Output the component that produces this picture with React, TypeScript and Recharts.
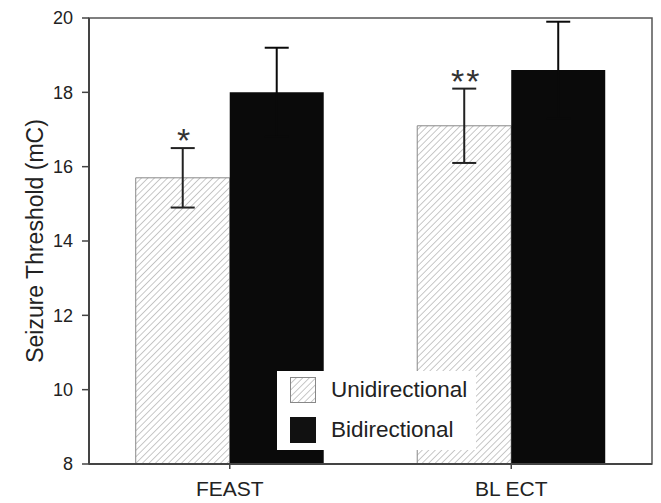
import React from 'react';
import { BarChart, Bar, XAxis, YAxis, ErrorBar, LabelList, Legend, ReferenceArea } from 'recharts';

// values
const groups = ['FEAST', 'BL ECT'];
const uniMean = [15.7, 17.1];
const uniErr = [0.8, 1.0];
const biMean = [18.0, 18.6];
const biErr = [1.2, 1.3];
const sigMarks = ['*', '**'];
const yTicks = [8, 10, 12, 14, 16, 18, 20];

const data = groups.map((g, i) => ({
  group: g,
  uni: uniMean[i],
  uniErr: uniErr[i],
  bi: biMean[i],
  biErr: biErr[i],
  sig: sigMarks[i],
}));

const FONT = '"Liberation Sans", Arial, Helvetica, sans-serif';
const INK = '#222';
const BLACK = '#0a0a0a';

const HatchPattern = ({ id }: { id: string }) => (
  <pattern id={id} patternUnits="userSpaceOnUse" width="4.6" height="4.6" patternTransform="rotate(45)">
    <rect width="4.6" height="4.6" fill="#fff" />
    <line x1="0" y1="0" x2="0" y2="4.6" stroke="#aaa" strokeWidth="1.3" />
  </pattern>
);

// asterisks above the error bar of the hatched bars
const SigLabel = (props: any) => {
  const vb = props.viewBox || {};
  const x = props.x ?? vb.x;
  const y = props.y ?? vb.y;
  const width = props.width ?? vb.width;
  const height = props.height ?? vb.height;
  const idx = props.index;
  const d = data[idx];
  if (!d || x == null) return null;
  const pxPerUnit = height / (d.uni - yTicks[0]);
  const errTop = y - d.uniErr * pxPerUnit;
  return (
    <text
      x={x + width / 2 + 2}
      y={errTop - 17}
      textAnchor="middle"
      fontFamily={FONT}
      fontSize={34}
      fill="#333"
      dy="0.62em"
      letterSpacing={2}
    >
      {d.sig}
    </text>
  );
};

const renderLegend = () => (
  <div style={{ background: '#fff', width: '100%', height: '100%', position: 'relative', fontFamily: FONT, fontSize: 22.5, color: INK }}>
    {[
      { label: 'Unidirectional', hatch: true },
      { label: 'Bidirectional', hatch: false },
    ].map((item, i) => (
      <div key={item.label} style={{ position: 'absolute', left: 13, top: 6 + i * 40, height: 26, display: 'flex', alignItems: 'center' }}>
        <svg width={26} height={26} style={{ display: 'block' }}>
          <defs>
            <HatchPattern id={`lg-hatch-${i}`} />
          </defs>
          <rect
            x={0.5}
            y={0.5}
            width={25}
            height={25}
            fill={item.hatch ? `url(#lg-hatch-${i})` : '#111'}
            stroke={item.hatch ? '#888' : '#111'}
            strokeWidth={1}
          />
        </svg>
        <span style={{ marginLeft: 15, lineHeight: '26px', whiteSpace: 'nowrap' }}>{item.label}</span>
      </div>
    ))}
  </div>
);

export default function App() {
  return (
    <div style={{ position: 'fixed', left: 0, top: 0, width: 661, height: 503, background: '#fff' }}>
      <BarChart
        width={661}
        height={503}
        data={data}
        margin={{ top: 18, right: 9, bottom: 0, left: 0 }}
        barCategoryGap="16.6%"
        barGap={0}
      >
        <defs>
          <HatchPattern id="hatch" />
        </defs>
        <XAxis
          dataKey="group"
          height={39}
          tickSize={5}
          tickMargin={12}
          axisLine={{ stroke: '#444', strokeWidth: 2 }}
          tickLine={{ stroke: '#444', strokeWidth: 1.5 }}
          tick={{ fill: INK, fontSize: 21, fontFamily: FONT }}
        />
        <YAxis
          width={89}
          domain={[8, 20]}
          ticks={yTicks}
          allowDataOverflow
          tickSize={7}
          tickMargin={9}
          axisLine={{ stroke: '#444', strokeWidth: 2 }}
          tickLine={{ stroke: '#444', strokeWidth: 1.5 }}
          tick={{ fill: INK, fontSize: 18, fontFamily: FONT }}
          label={{
            value: 'Seizure Threshold (mC)',
            angle: -90,
            position: 'center',
            dx: -10,
            style: { fill: INK, fontSize: 23, fontFamily: FONT, textAnchor: 'middle' },
          }}
        />
        <ReferenceArea y1={8} y2={20} fill="none" stroke="#555" strokeWidth={1.5} ifOverflow="visible" />
        <Bar dataKey="uni" name="Unidirectional" fill="url(#hatch)" stroke="#888" strokeWidth={1} isAnimationActive={false}>
          <ErrorBar dataKey="uniErr" direction="y" width={12} stroke={INK} strokeWidth={2} />
          <LabelList dataKey="sig" content={SigLabel} />
        </Bar>
        <Bar dataKey="bi" name="Bidirectional" fill={BLACK} isAnimationActive={false}>
          <ErrorBar dataKey="biErr" direction="y" width={12} stroke={BLACK} strokeWidth={2} />
        </Bar>
        <Legend
          layout="horizontal"
          verticalAlign="middle"
          align="center"
          content={renderLegend}
          wrapperStyle={{ left: 277, top: 371, width: 199, height: 79 }}
        />
      </BarChart>
    </div>
  );
}
